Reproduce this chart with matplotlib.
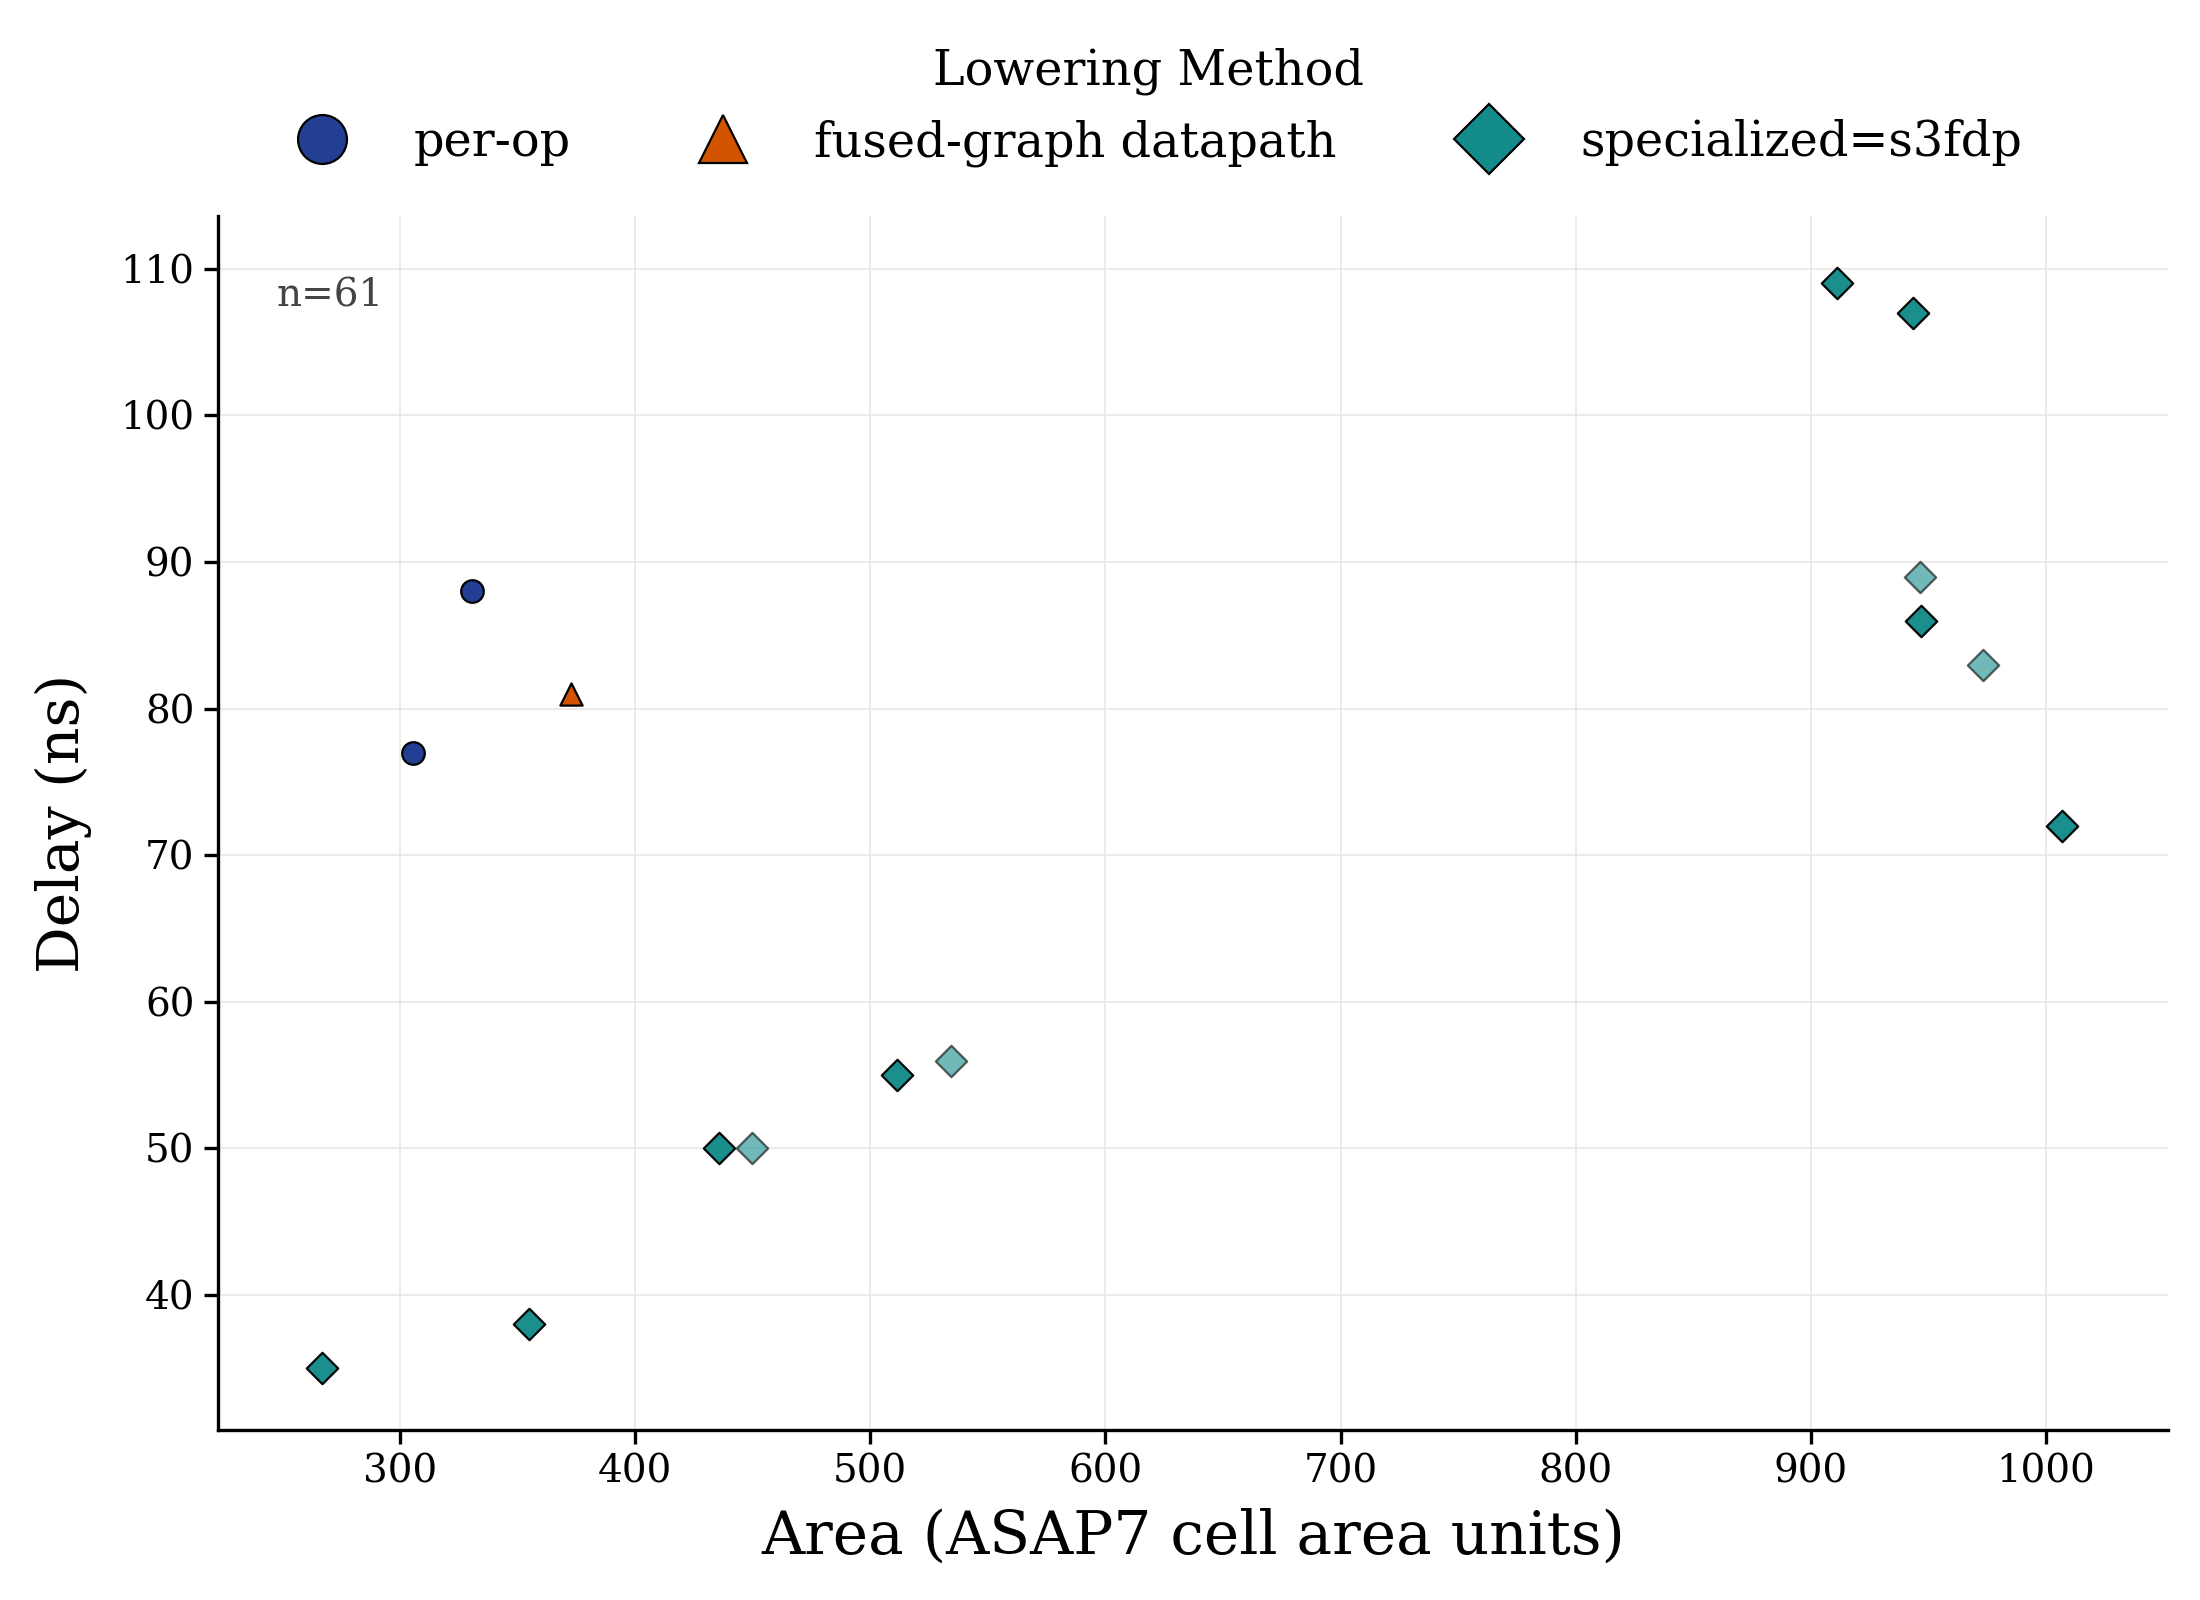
import matplotlib
matplotlib.use("Agg")
import matplotlib.pyplot as plt
from matplotlib.lines import Line2D

plt.rcParams['font.family'] = ['DejaVu Serif']

# ---- data ----
perop_area = [330.6, 305.5]
perop_delay = [88, 77]

fused_area = [372.8]
fused_delay = [81]

# specialized (dense = several overlapping runs, light = single run)
spec_dense_area = [266.8, 354.7, 435.5, 511.5, 911.0, 943.4, 947.0, 1006.7]
spec_dense_delay = [35, 38, 50, 55, 109, 107, 86, 72]
spec_light_area = [449.8, 534.3, 946.6, 973.2]
spec_light_delay = [50, 56, 89, 83]

methods = ["per-op", "fused-graph datapath", "specialized=s3fdp"]
n_total = 61

C_PEROP = "#233f94"
C_FUSED = "#d35400"
C_SPEC = "#138b8a"

fig = plt.figure(figsize=(11, 8), dpi=200)
ax = fig.add_axes([218/2200, 1-1430/1600, 1950/2200, 1214/1600])

ax.scatter(perop_area, perop_delay, marker="o", s=66, c=C_PEROP,
           edgecolors="black", linewidths=0.8, zorder=3)
ax.scatter(fused_area, fused_delay, marker="^", s=64, c=C_FUSED,
           edgecolors="black", linewidths=0.8, zorder=3)
ax.scatter(spec_light_area, spec_light_delay, marker="D", s=64, c=C_SPEC,
           edgecolors="black", linewidths=0.8, alpha=0.6, zorder=3)
ax.scatter(spec_dense_area, spec_dense_delay, marker="D", s=64, c=C_SPEC,
           edgecolors="black", linewidths=0.8, alpha=0.97, zorder=3)

ax.set_xlim(222.5, 1052)
ax.set_ylim(30.8, 113.6)
ax.set_xticks([300, 400, 500, 600, 700, 800, 900, 1000])
ax.set_yticks([40, 50, 60, 70, 80, 90, 100, 110])
ax.grid(True, color="#e8e8e8", linewidth=0.6)
ax.set_axisbelow(True)
for sp in ["top", "right"]:
    ax.spines[sp].set_visible(False)
for sp in ["left", "bottom"]:
    ax.spines[sp].set_linewidth(1.2)
ax.tick_params(axis="both", labelsize=14, length=5, width=1.2)
ax.set_xlabel("Area (ASAP7 cell area units)", fontsize=21.5, labelpad=6)
ax.set_ylabel("Delay (ns)", fontsize=21, labelpad=10)

ax.text(0.03, 0.934, f"n={n_total}", transform=ax.transAxes, ha="left", va="center",
        fontsize=14, color="#444444")

handles = [
    Line2D([], [], marker="o", linestyle="none", markersize=8, markerfacecolor=C_PEROP,
           markeredgecolor="black", markeredgewidth=0.8),
    Line2D([], [], marker="^", linestyle="none", markersize=8, markerfacecolor=C_FUSED,
           markeredgecolor="black", markeredgewidth=0.8),
    Line2D([], [], marker="D", linestyle="none", markersize=8, markerfacecolor=C_SPEC,
           markeredgecolor="black", markeredgewidth=0.8),
]
fig.legend(handles, methods, title="Lowering Method", loc="upper center",
           bbox_to_anchor=(0.522, 0.997), ncol=3, frameon=False, fontsize=17.2,
           title_fontsize=17.2, markerscale=2.2, columnspacing=2.2,
           handletextpad=0.9)

fig.savefig("out.png", dpi=200)
